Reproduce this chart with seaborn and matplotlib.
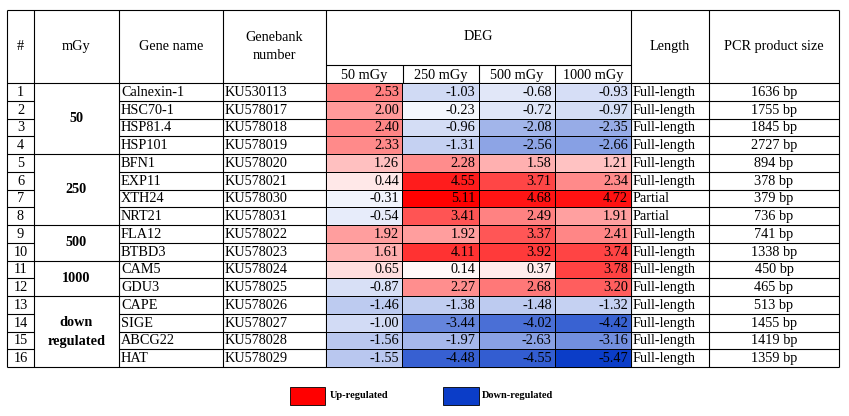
import numpy as np
import pandas as pd
import matplotlib
matplotlib.use("Agg")
import matplotlib.pyplot as plt
import seaborn as sns
from matplotlib.colors import LinearSegmentedColormap, TwoSlopeNorm
from matplotlib.patches import Rectangle

genes = ["Calnexin-1", "HSC70-1", "HSP81.4", "HSP101", "BFN1", "EXP11", "XTH24", "NRT21",
         "FLA12", "BTBD3", "CAM5", "GDU3", "CAPE", "SIGE", "ABCG22", "HAT"]
accessions = ["KU530113", "KU578017", "KU578018", "KU578019", "KU578020", "KU578021",
              "KU578030", "KU578031", "KU578022", "KU578023", "KU578024", "KU578025",
              "KU578026", "KU578027", "KU578028", "KU578029"]
doses = ["50 mGy", "250 mGy", "500 mGy", "1000 mGy"]
deg_50 = [2.53, 2.00, 2.40, 2.33, 1.26, 0.44, -0.31, -0.54, 1.92, 1.61, 0.65, -0.87, -1.46, -1.00, -1.56, -1.55]
deg_250 = [-1.03, -0.23, -0.96, -1.31, 2.28, 4.55, 5.11, 3.41, 1.92, 4.11, 0.14, 2.27, -1.38, -3.44, -1.97, -4.48]
deg_500 = [-0.68, -0.72, -2.08, -2.56, 1.58, 3.71, 4.68, 2.49, 3.37, 3.92, 0.37, 2.68, -1.48, -4.02, -2.63, -4.55]
deg_1000 = [-0.93, -0.97, -2.35, -2.66, 1.21, 2.34, 4.72, 1.91, 2.41, 3.74, 3.78, 3.20, -1.32, -4.42, -3.16, -5.47]
lengths = ["Full-length"] * 6 + ["Partial", "Partial"] + ["Full-length"] * 8
pcr_sizes = ["1636 bp", "1755 bp", "1845 bp", "2727 bp", "894 bp", "378 bp", "379 bp", "736 bp",
             "741 bp", "1338 bp", "450 bp", "465 bp", "513 bp", "1455 bp", "1419 bp", "1359 bp"]
groups = ["50", "250", "500", "1000", "down\nregulated"]
group_sizes = [4, 4, 2, 2, 4]

plt.rcParams["font.family"] = ["Liberation Serif", "DejaVu Serif"]

W, H = 849, 416
fig = plt.figure(figsize=(W / 100, H / 100), dpi=100)
ax = fig.add_axes([0, 0, 1, 1])
ax.set_xlim(0, W)
ax.set_ylim(H, 0)
ax.axis("off")

# column edges (pixels)
xs = [7, 34, 119, 223, 326, 403, 479, 555, 631, 709, 839]
top, mid, hdr, bottom = 10, 65, 83, 367
rh = (bottom - hdr) / len(genes)
fs = 10.3
lw = 0.8

# heatmap block
df = pd.DataFrame({"50 mGy": deg_50, "250 mGy": deg_250, "500 mGy": deg_500, "1000 mGy": deg_1000},
                  index=genes)
cmap = LinearSegmentedColormap.from_list("updown", ["#0b3dc8", "#ffffff", "#ff0000"])
allv = df.to_numpy()
norm = TwoSlopeNorm(vmin=allv.min(), vcenter=0, vmax=allv.max())
hax = fig.add_axes([xs[4] / W, 1 - bottom / H, (xs[8] - xs[4]) / W, (bottom - hdr) / H])
sns.heatmap(df, ax=hax, cmap=cmap, norm=norm, annot=True, fmt=".2f", cbar=False,
            linewidths=0.5, linecolor="black", xticklabels=False, yticklabels=False,
            annot_kws={"color": "black", "fontsize": fs, "ha": "right"})
for t in hax.texts:
    x, y = t.get_position()
    t.set_position((x + 0.46, y + 0.03))
hax.set_xlabel("")
hax.set_ylabel("")

# header text
yc = (top + hdr) / 2
ax.text((xs[0] + xs[1]) / 2, yc, "#", ha="center", va="center", fontsize=fs)
ax.text((xs[1] + xs[2]) / 2, yc, "mGy", ha="center", va="center", fontsize=fs)
ax.text((xs[2] + xs[3]) / 2, yc, "Gene name", ha="center", va="center", fontsize=fs)
ax.text((xs[3] + xs[4]) / 2, yc, "Genebank\nnumber", ha="center", va="center", fontsize=fs,
        linespacing=1.5)
ax.text((xs[4] + xs[8]) / 2, 37, "DEG", ha="center", va="center", fontsize=fs)
for i, d in enumerate(doses):
    ax.text((xs[4 + i] + xs[5 + i]) / 2, (mid + hdr) / 2 + 1, d, ha="center", va="center", fontsize=fs)
ax.text((xs[8] + xs[9]) / 2, yc, "Length", ha="center", va="center", fontsize=fs)
ax.text((xs[9] + xs[10]) / 2, yc, "PCR product size", ha="center", va="center", fontsize=fs)

# body rows
for i in range(len(genes)):
    y = hdr + (i + 0.5) * rh + 0.5
    ax.text((xs[0] + xs[1]) / 2, y, str(i + 1), ha="center", va="center", fontsize=fs)
    ax.text(xs[2] + 2, y, genes[i], ha="left", va="center", fontsize=fs)
    ax.text(xs[3] + 2, y, accessions[i], ha="left", va="center", fontsize=fs)
    ax.text(xs[8] + 2, y, lengths[i], ha="left", va="center", fontsize=fs)
    ax.text((xs[9] + xs[10]) / 2, y, pcr_sizes[i], ha="center", va="center", fontsize=fs)

# group labels (mGy column)
start = 0
bounds = []
for g, n in zip(groups, group_sizes):
    yg = hdr + (start + n / 2) * rh
    ax.text((xs[1] + xs[2]) / 2, yg, g, ha="center", va="center", fontsize=fs,
            fontweight="bold", linespacing=1.6)
    start += n
    bounds.append(start)

# grid lines
kw = dict(color="black", lw=lw, solid_capstyle="butt")
ax.plot([xs[0], xs[-1]], [top, top], **kw)
ax.plot([xs[4], xs[8]], [mid, mid], **kw)
ax.plot([xs[0], xs[-1]], [hdr, hdr], **kw)
for i in range(1, len(genes) + 1):
    y = hdr + i * rh
    if i in bounds:
        ax.plot([xs[0], xs[-1]], [y, y], **kw)
    else:
        ax.plot([xs[0], xs[1]], [y, y], **kw)
        ax.plot([xs[2], xs[-1]], [y, y], **kw)
for j, x in enumerate(xs):
    if j in (5, 6, 7):
        ax.plot([x, x], [mid, bottom], **kw)
    else:
        ax.plot([x, x], [top, bottom], **kw)

# legend
ax.add_patch(Rectangle((290, 387), 35, 18, facecolor="#ff0000", edgecolor="black", lw=0.6))
ax.text(330, 396, "Up-regulated", ha="left", va="center", fontsize=7.5, fontweight="bold")
ax.add_patch(Rectangle((443, 387), 36, 18, facecolor="#0b3dc8", edgecolor="black", lw=0.6))
ax.text(482, 396, "Down-regulated", ha="left", va="center", fontsize=7.5, fontweight="bold")

fig.savefig("out.png", dpi=100)
